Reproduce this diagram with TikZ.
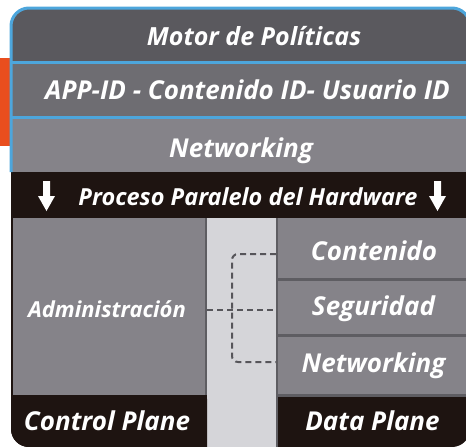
\documentclass[tikz,border=0pt]{standalone}
\usepackage{fontspec}
\setmainfont{Open Sans}
\definecolor{polgray}{HTML}{5A595E}
\definecolor{appgray}{HTML}{6E6D72}
\definecolor{netgray}{HTML}{858389}
\definecolor{bandblack}{HTML}{1E1411}
\definecolor{stripgray}{HTML}{D5D5D9}
\definecolor{sepgray}{HTML}{5E5D62}
\definecolor{linkgray}{HTML}{56555A}
\definecolor{borderblue}{HTML}{4DA6DC}
\definecolor{taborange}{HTML}{E94E1E}
\newcommand\lblsize[1]{\bfseries\itshape\fontsize{#1}{#1}\selectfont}
\begin{document}
\begin{tikzpicture}[x=1pt,y=-1pt,
    lbl/.style={text=white,anchor=base,inner sep=0pt,font=\lblsize{26}},
    link/.style={draw=linkgray,line width=2pt,dash pattern=on 6pt off 4pt,rounded corners=6pt}]
  \useasboundingbox (0,0) rectangle (466,447);
  % orange tab behind the box
  \fill[taborange] (0,58) rectangle (12,146);
  \begin{scope}
    \clip[rounded corners=18pt] (11,8) rectangle (470,447);
    \fill[polgray] (11,8) rectangle (470,62);
    \fill[appgray] (11,62) rectangle (470,117);
    \fill[netgray] (11,117) rectangle (470,172);
    \fill[bandblack] (11,172) rectangle (470,447);
    % control plane / strip / data plane
    \fill[netgray] (13,218) rectangle (205,395);
    \draw[sepgray,line width=2pt] (206,218) -- (206,395);
    \fill[stripgray] (207,218) rectangle (276,447);
    \fill[bandblack,rounded corners=4pt] (11,395) rectangle (207,455);
    \fill[netgray] (278,218) rectangle (470,395);
    \draw[sepgray,line width=2pt] (277,218) -- (277,447);
    \draw[sepgray,line width=3pt] (278,279.5) -- (470,279.5);
    \draw[sepgray,line width=3pt] (278,335) -- (470,335);
    \draw[sepgray,line width=3pt] (278,395) -- (470,395);
  \end{scope}
  % blue frame of the upper rows
  \draw[borderblue,line width=3pt,rounded corners=18pt] (11,172) -- (11,8) -- (470,8) -- (470,172);
  \draw[borderblue,line width=3pt] (11,62) -- (470,62);
  \draw[borderblue,line width=3pt] (11,117) -- (470,117);
  % hardware arrows
  \foreach \ax in {46.5,437.5}
    \fill[white] (\ax-3.5,181) -- (\ax+3.5,181) -- (\ax+3.5,196) -- (\ax+8.5,196)
      -- (\ax,211) -- (\ax-8.5,196) -- (\ax-3.5,196) -- cycle;
  % labels
  \node[lbl,font=\lblsize{25}] (pol) at (254,45) {Motor de Políticas};
  \node[lbl] (app) at (247.5,99) {APP-ID - Contenido ID- Usuario ID};
  \node[lbl] (net) at (241,157) {Networking};
  \node[lbl,font=\lblsize{23.5}] (hw) at (248,205) {Proceso Paralelo del Hardware};
  \node[lbl,font=\lblsize{22}] (adm) at (107,317) {Administración};
  \node[lbl] (con) at (374,260) {Contenido};
  \node[lbl] (seg) at (373.5,315) {Seguridad};
  \node[lbl] (net2) at (373.5,372) {Networking};
  \node[lbl,font=\lblsize{26}] (cp) at (107,430) {Control Plane};
  \node[lbl,font=\lblsize{26}] (dp) at (372.5,430) {Data Plane};
  % dashed links between the planes
  \coordinate (admE) at (207,310);
  \coordinate (hub) at (232,310);
  \coordinate (conW) at (276,254);
  \coordinate (segW) at (276,310);
  \coordinate (netW) at (276,362);
  \draw[link] (admE) -- (segW);
  \draw[link] (conW) -| (hub) |- (netW);
\end{tikzpicture}
\end{document}
